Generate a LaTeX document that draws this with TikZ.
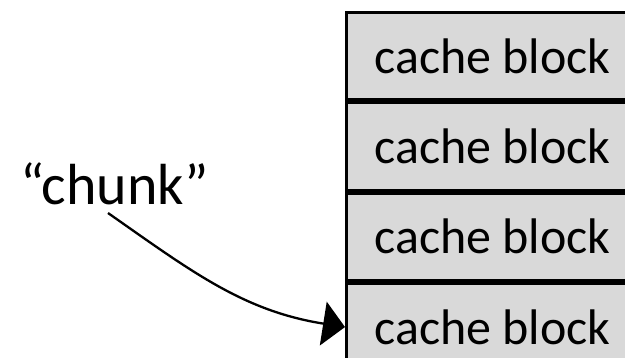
\documentclass[tikz,border=0pt]{standalone}
\usepackage{fontspec}
\setmainfont{Carlito}
\usetikzlibrary{arrows.meta}
\definecolor{blockgray}{HTML}{D9D9D9}
\tikzset{
  blockrow/.style={draw=black, line width=3pt, fill=blockgray, rectangle,
    minimum width=292pt, minimum height=87.3pt, inner sep=0pt,
    font=\fontsize{50}{60}\selectfont},
  label/.style={font=\fontsize{58}{70}\selectfont, inner sep=0pt},
  pointer/.style={line width=2.3pt, -{Triangle[length=22pt,width=44pt]}}
}
\begin{document}
\begin{tikzpicture}[x=1pt,y=1pt]
  \clip (0,0) rectangle (625,357);
  % stack of cache blocks
  \node[blockrow, anchor=north west] (b1) at (345,346) {cache block};
  \node[blockrow, anchor=north] (b2) at (b1.south) {cache block};
  \node[blockrow, anchor=north] (b3) at (b2.south) {cache block};
  \node[blockrow, anchor=north] (b4) at (b3.south) {cache block};
  % label and pointer
  \node[label, anchor=base] (chunk) at (114.5,153) {“chunk”};
  \coordinate (tail) at (108,144);
  \draw[pointer] (tail) to[out=-35, in=171] (b4.west);
\end{tikzpicture}
\end{document}
